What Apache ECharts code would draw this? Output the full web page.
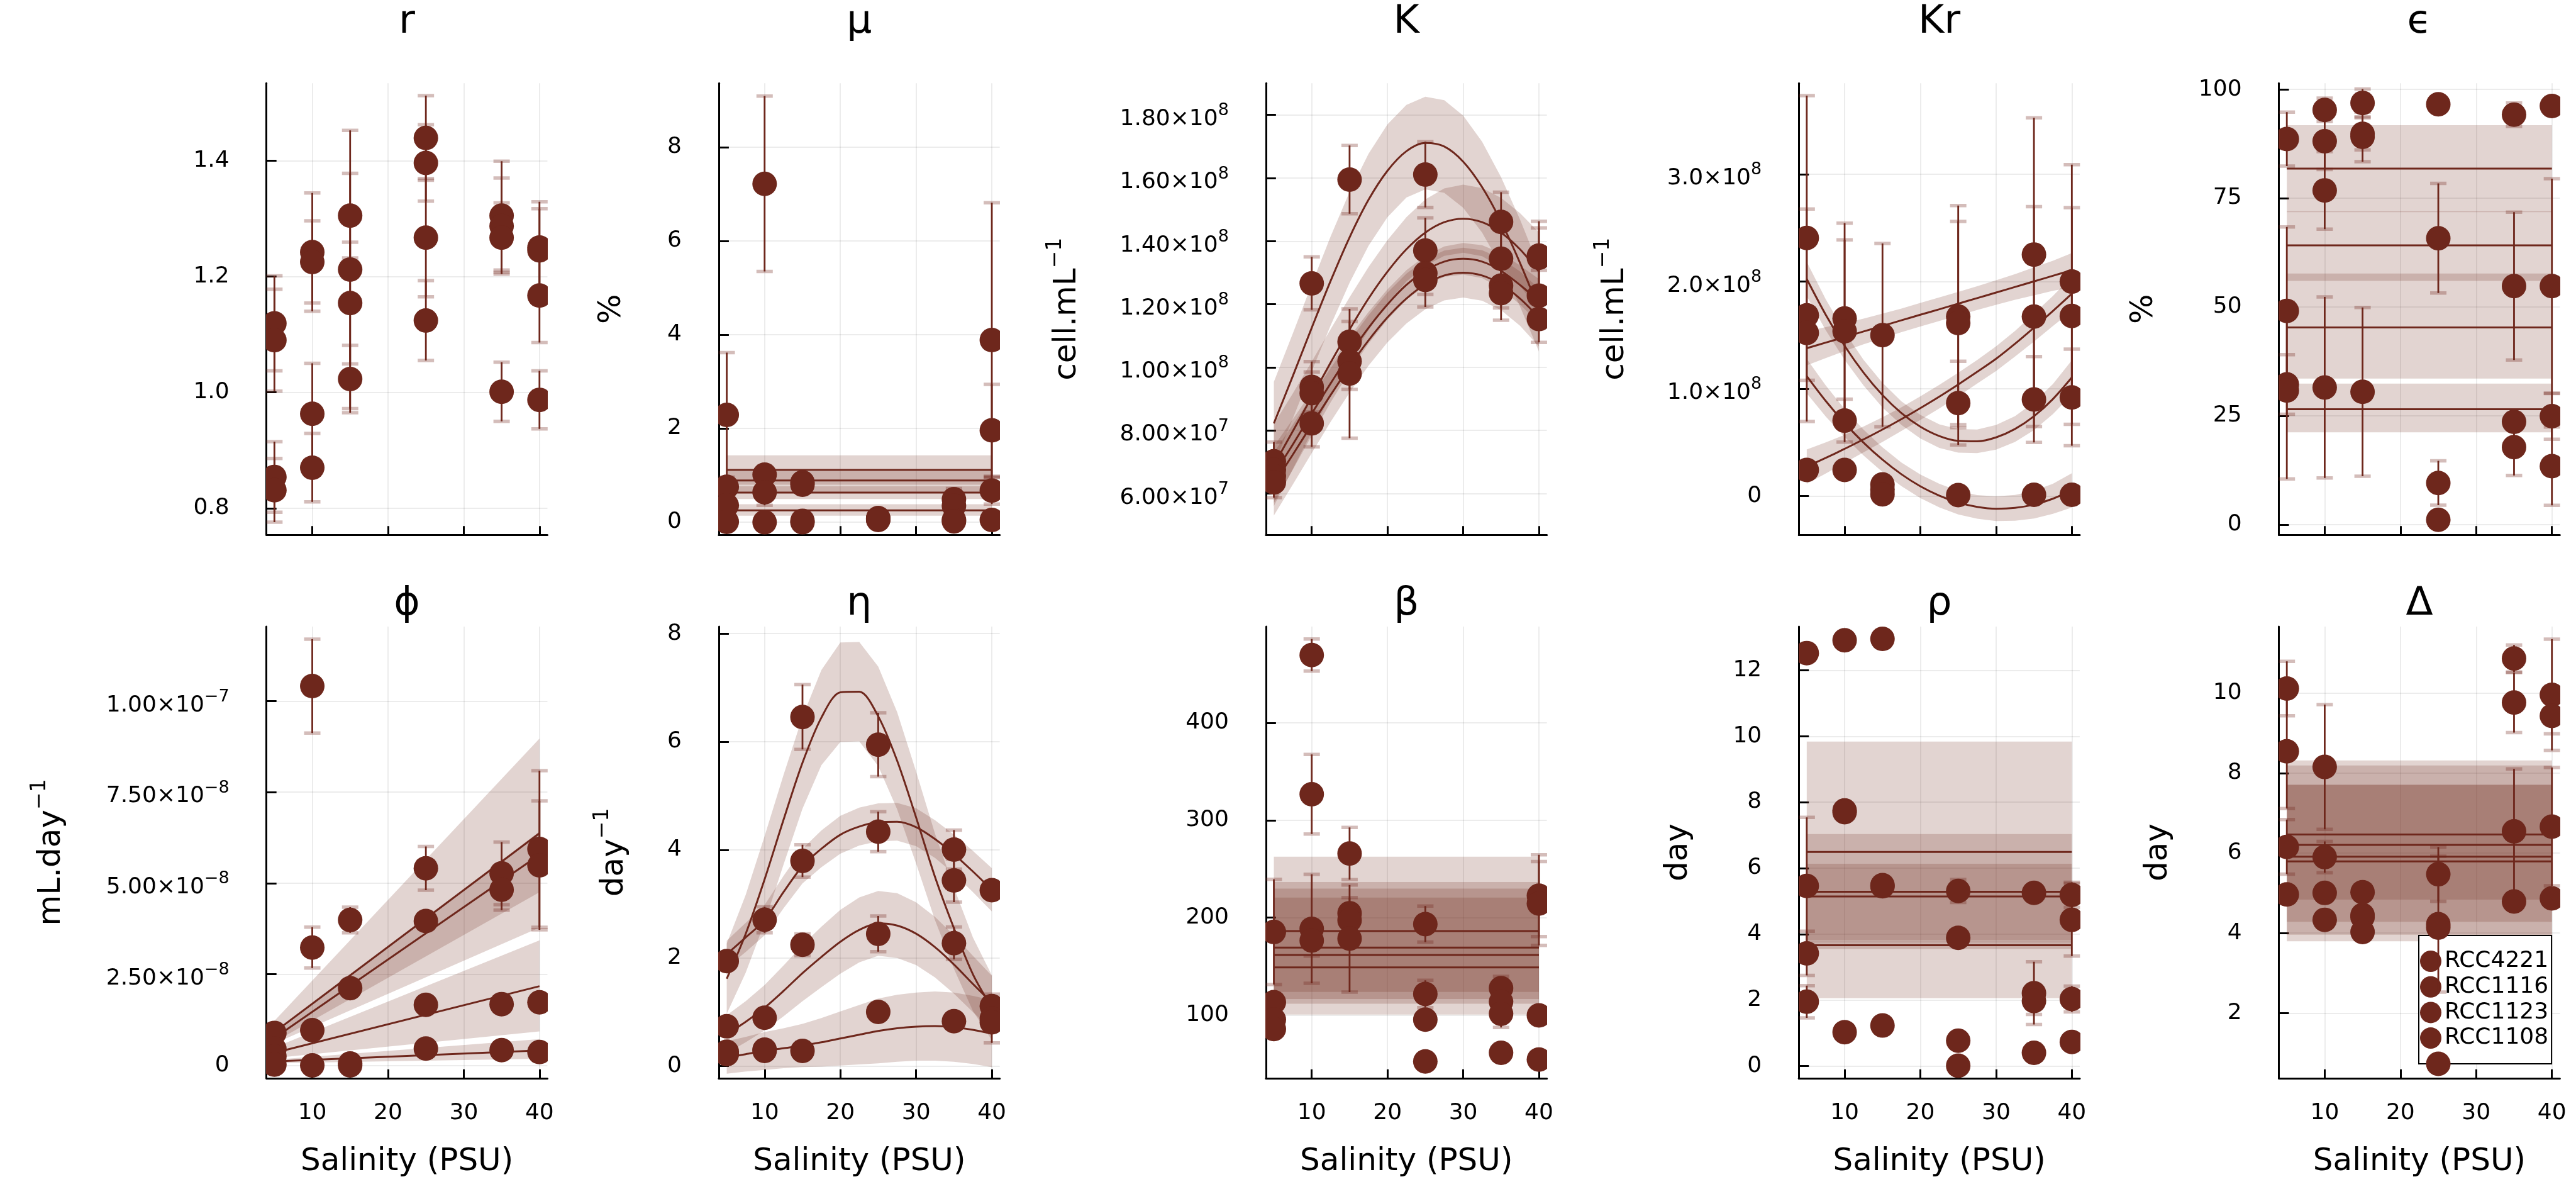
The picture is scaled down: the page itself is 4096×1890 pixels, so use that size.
<!DOCTYPE html>
<html>
<head>
<meta charset="utf-8">
<title>Salinity response of model parameters</title>
<script src="https://cdn.jsdelivr.net/npm/echarts@6.0.0/dist/echarts.min.js"></script>
<style>
html, body { margin: 0; padding: 0; background: #ffffff; }
#chart { width: 4096px; height: 1890px; }
</style>
</head>
<body>
<div id="chart"></div>
<script>
// ---------------- data ----------------
const salinity = [5, 10, 15, 25, 35, 40];
const strains = ['RCC4221', 'RCC1116', 'RCC1123', 'RCC1108'];
const fitX = [5, 7.5, 10, 12.5, 15, 17.5, 20, 22.5, 25, 27.5, 30, 32.5, 35, 37.5, 40];
const flatX = [5, 40];

// r
const rVal = [[1.119,1.242,1.305,1.439,1.305,1.250],[1.090,1.225,1.212,1.396,1.287,1.245],[0.854,0.963,1.154,1.267,1.267,1.167],[0.831,0.870,1.023,1.124,1.001,0.987]];
const rErr = [[0.082,0.102,0.073,0.073,0.094,0.079],[0.088,0.071,0.240,0.066,0.083,0.072],[0.061,0.087,0.105,0.102,0.060,0.081],[0.055,0.059,0.058,0.069,0.051,0.050]];

// mu (%)
const muVal = [[2.29,7.22,0.85,0.09,0.49,3.886],[0.755,1.015,0.80,0.08,0.35,1.96],[0.36,0.64,0.03,0.06,0.05,0.676],[0.01,0.0,0.0,0.05,0.02,0.05]];
const muErr = [[1.33,1.87,0,0,0.23,2.93],[0,0,0,0,0,0.98],[0,0.28,0,0,0,0.29],[0,0,0,0,0,0]];
const muFit = [1.114, 0.891, 0.632, 0.254];
const muLo = [0.80, 0.64, 0.496, 0.14];
const muHi = [1.428, 1.09, 0.768, 0.385];

// K (units of 1e7 cell/mL)
const kVal = [[7.02,12.66,15.95,16.11,14.61,13.54],[6.75,9.38,10.81,13.70,13.44,13.47],[6.55,9.18,10.19,12.98,12.59,12.27],[6.35,8.22,9.80,12.77,12.35,11.53]];
const kErr = [[0,0.84,1.08,1.04,0.94,1.09],[0.88,0.80,0.64,1.04,0.91,0.95],[0,0.67,0.89,0.67,0.71,0.81],[0,0.74,2.05,0.86,0.86,0.74]];
const kFitA = [8.22,9.72,11.25,12.74,14.12,15.31,16.23,16.85,17.11,17.0,16.52,15.71,14.62,13.31,11.85];
const kFitB = [6.9,7.97,9.06,10.15,11.2,12.18,13.03,13.74,14.27,14.6,14.71,14.6,14.27,13.74,13.03];
const kFitC = [6.6,7.55,8.53,9.49,10.41,11.25,11.99,12.61,13.06,13.35,13.44,13.35,13.06,12.61,12.1];
const kFitD = [6.3,7.23,8.18,9.12,10.02,10.85,11.58,12.18,12.63,12.91,13.0,12.91,12.63,12.18,11.58];
const kHalfA = [1.32,1.35,1.38,1.41,1.44,1.46,1.47,1.47,1.47,1.47,1.46,1.44,1.41,1.38,1.35];
const kHalfB = [1.3,1.2,1.12,1.06,1.02,1.0,1.0,1.02,1.05,1.07,1.08,1.08,1.1,1.15,1.25];
const kHalfC = [0.9,0.8,0.7,0.6,0.55,0.5,0.48,0.47,0.47,0.48,0.5,0.52,0.56,0.62,0.7];
const kHalfD = [1.0,0.95,0.9,0.85,0.82,0.8,0.79,0.79,0.79,0.79,0.79,0.8,0.82,0.86,0.92];

// Kr (units of 1e8 cell/mL)
const krVal = [[2.406,1.655,1.5,1.673,2.251,1.999],[1.685,1.536,0.108,1.612,1.673,1.679],[1.521,0.703,0.06,0.867,0.9,0.919],[0.243,0.243,0.016,0.009,0.012,0.012]];
const krErr = [[1.327,0.888,0.855,1.035,1.275,1.09],[0.99,0.852,0,0.947,1.025,1.01],[0,0.2,0,0.39,0.4,0.45],[0,0,0,0,0,0]];
const krFitLin = [1.378,1.43,1.482,1.534,1.586,1.638,1.69,1.741,1.793,1.845,1.897,1.949,2.001,2.053,2.105];
const krFitUp = [2.023,1.691,1.40,1.150,0.941,0.773,0.646,0.559,0.514,0.510,0.547,0.625,0.744,0.904,1.105];
const krFitLow = [1.118,0.887,0.681,0.498,0.339,0.203,0.091,0.004,-0.061,-0.101,-0.118,-0.110,-0.080,-0.025,0.053];
const krFitRise = [0.274,0.355,0.44,0.528,0.62,0.717,0.82,0.927,1.04,1.158,1.28,1.42,1.57,1.725,1.886];
const krHalf = [0.16,0.145,0.13,0.12,0.115,0.11,0.11,0.11,0.11,0.11,0.115,0.12,0.13,0.14,0.16];

// epsilon (%)
const epsVal = [[88.6,95.3,96.9,96.6,94.2,96.2],[49.1,88.1,89.8,65.8,54.8,54.8],[32.2,76.8,89.1,9.55,23.6,24.9],[30.8,31.5,30.5,1.1,17.8,13.4]];
const epsErr = [[6.2,2.7,3.2,0,2.7,0],[19.3,6.5,3.7,12.6,17,24.7],[6.85,8.9,5.7,5.1,0,5.3],[20.3,20.8,19.4,0,6.5,9]];
const epsFit = [81.8, 64.15, 45.3, 26.5];
const epsLo = [71.8, 56.0, 33.55, 21.2];
const epsHi = [91.8, 72.0, 57.7, 32.4];

// phi (units of 1e-8 mL/day)
const phiVal = [[0.89,10.41,3.99,5.41,5.27,5.94],[0.45,3.233,2.12,3.96,4.82,5.49],[0.25,0.964,0.05,1.66,1.68,1.73],[0.02,0.0,0.0,0.46,0.418,0.364]];
const phiErr = [[0,1.29,0.35,0.6,0.86,2.15],[0,0.56,0,0,0.56,1.77],[0,0,0,0,0,0],[0,0,0,0,0,0]];
const phiFit = [[0.91,6.37],[0.75,5.78],[0.343,2.173],[0.107,0.407]];
const phiLo = [[0.6,3.78],[0.64,4.75],[0.2,0.93],[0.06,0.18]];
const phiHi = [[1.22,8.97],[0.86,6.42],[0.49,3.43],[0.155,0.72]];

// eta (1/day)
const etaVal = [[1.941,2.706,6.457,5.945,4.004,3.254],[0.736,0.895,3.795,4.336,3.434,1.111],[0.267,0.303,2.244,2.446,2.273,0.88],[0.22,0.28,0.281,1.003,0.83,0.81]];
const etaErr = [[0,0.24,0.6,0.59,0.36,0],[0,0,0.3,0.37,0.4,0],[0,0,0.2,0.33,0.3,0.45],[0,0,0,0,0,0]];
const etaFit1 = [1.616,2.446,3.455,4.557,5.61,6.447,6.915,6.925,6.47,5.648,4.6,3.498,2.55,1.7,1.08];
const etaFit2 = [2.07,2.38,2.70,3.22,3.70,4.02,4.28,4.43,4.51,4.52,4.42,4.2,3.92,3.6,3.26];
const etaFit3 = [0.59,0.82,1.08,1.39,1.72,2.02,2.3,2.52,2.64,2.6,2.45,2.2,1.88,1.52,1.17];
const etaFit4 = [0.16,0.22,0.28,0.33,0.38,0.44,0.51,0.58,0.65,0.7,0.73,0.74,0.72,0.67,0.6];
const etaHalf1 = [0.65,0.72,0.8,0.83,0.85,0.88,0.92,0.92,0.92,0.9,0.85,0.8,0.75,0.68,0.6];
const etaHalf2 = [0.25,0.27,0.28,0.3,0.32,0.34,0.35,0.35,0.35,0.35,0.35,0.35,0.36,0.38,0.4];
const etaHalf3 = [0.35,0.38,0.42,0.47,0.52,0.56,0.59,0.6,0.6,0.6,0.58,0.56,0.54,0.52,0.5];
const etaHalf4 = [0.3,0.32,0.35,0.37,0.4,0.45,0.5,0.55,0.6,0.62,0.63,0.64,0.64,0.63,0.62];

// beta
const betaVal = [[185.3,469.6,265.8,193.3,127.6,222.5],[113.2,326.7,204.5,121.6,113.6,214.5],[95.2,188.5,197.3,95.2,101.2,99.6],[85.6,176.5,178.5,52.3,61.2,54.3]];
const betaErr = [[54,16.5,26.8,18.5,12,42],[6,40.8,16,14,0,43],[0,56,0,0,14,0],[0,16,55,0,0,0]];
const betaFit = [186.1, 169.3, 161.7, 148.9];
const betaLo = [100.4, 111.6, 116.4, 123.6];
const betaHi = [262.6, 236.6, 229.8, 220.5];

// rho (day)
const rhoVal = [[12.52,12.91,12.95,5.309,5.25,5.19],[5.462,7.75,5.486,3.89,2.211,4.434],[3.417,7.697,5.45,0.769,1.974,2.034],[1.951,1.029,1.23,0.012,0.402,0.733]];
const rhoErr = [[0,0,0,0.35,0,0.38],[2.08,0,0,0,0.95,1.1],[0.67,0,0,0,0.41,0.39],[0.49,0,0,0,0,0]];
const rhoFit = [6.49, 5.285, 5.143, 3.665];
const rhoLo = [3.75, 3.81, 2.057, 3.55];
const rhoHi = [7.035, 6.136, 9.837, 3.78];

// Delta (day)
const deltaVal = [[10.117,8.156,5.024,5.473,10.868,9.961],[8.546,5.902,4.45,4.224,9.766,9.434],[6.156,5.005,4.4,4.137,6.546,6.663],[4.966,4.332,4.029,0.732,4.79,4.868]];
const deltaErr = [[0.68,1.56,0,0.68,0.34,1.39],[1.43,0.39,0,1.7,0.75,0.45],[0.683,0,0,0,1.56,1.48],[0,0,0,0,0,0]];
const deltaFit = [6.468, 6.205, 5.912, 5.795];
const deltaLo = [3.795, 3.961, 4.283, 4.839];
const deltaHi = [8.32, 8.195, 7.717, 7.70];

// tick values
const xTicks = [10, 20, 30, 40];
const rTicks = [0.8, 1.0, 1.2, 1.4];
const muTicks = [0, 2, 4, 6, 8];
const kTicks = [6e7, 8e7, 1e8, 1.2e8, 1.4e8, 1.6e8, 1.8e8];
const krTicks = [0, 1e8, 2e8, 3e8];
const epsTicks = [0, 25, 50, 75, 100];
const phiTicks = [0, 2.5e-8, 5e-8, 7.5e-8, 1e-7];
const etaTicks = [0, 2, 4, 6, 8];
const betaTicks = [100, 200, 300, 400];
const rhoTicks = [0, 2, 4, 6, 8, 10, 12];
const deltaTicks = [2, 4, 6, 8, 10];

// ---------------- style / layout ----------------
const COLOR = '#6e271c';
const BAND = 'rgba(111,38,27,0.2)';
const CAP = 'rgba(111,38,27,0.3)';
const FONT = 'DejaVu Sans';
const S = 0.525;
const colLeft = [807, 2177, 3834, 5448, 6902].map(v => v * S);
const plotW = 851 * S;
const rowTop = [252 * S, 1897 * S];
const plotH = 1367.5 * S;
const titleTop = [3.8, 929.2];
const MARKER_R = 19.5;

function sci(v, d) {
  if (v === 0) return '0';
  const e = Math.floor(Math.log10(Math.abs(v)) + 1e-9);
  const m = v / Math.pow(10, e);
  return '{m|' + m.toFixed(d) + '×10}{s|' + (e < 0 ? '\u2212' + (-e) : String(e)) + '}';
}
function flatParts(fit, lo, hi) {
  return {
    lines: fit.map(f => ({ x: flatX, y: [f, f] })),
    bands: fit.map((f, k) => ({ x: flatX, lo: [lo[k], lo[k]], hi: [hi[k], hi[k]] }))
  };
}
function curveParts(xs, fits, halves) {
  return {
    lines: fits.map(f => ({ x: xs, y: f })),
    bands: fits.map((f, k) => ({ x: xs, lo: f.map((v, j) => v - halves[k][j]), hi: f.map((v, j) => v + halves[k][j]) }))
  };
}
function pairParts(xs, fits, los, his) {
  return {
    lines: fits.map(f => ({ x: xs, y: f })),
    bands: fits.map((f, k) => ({ x: xs, lo: los[k], hi: his[k] }))
  };
}

const panels = [
  Object.assign({ title: 'r', unit: 1, yMin: 0.754, yMax: 1.5335, ticks: rTicks, label: v => v.toFixed(1), yName: '', nameGap: 0, val: rVal, err: rErr }, { lines: [], bands: [] }),
  Object.assign({ title: 'μ', unit: 1, yMin: -0.27, yMax: 9.366, ticks: muTicks, label: v => String(v), yName: '%', nameGap: 145, val: muVal, err: muErr }, flatParts(muFit, muLo, muHi)),
  Object.assign({ title: 'K', unit: 1e7, yMin: 4.686e7, yMax: 1.9006e8, ticks: kTicks, label: v => sci(v, 2), yName: '{n|cell.mL}{p|\u22121}', nameGap: 291, val: kVal, err: kErr },
    curveParts(fitX, [kFitA, kFitB, kFitC, kFitD], [kHalfA, kHalfB, kHalfC, kHalfD])),
  Object.assign({ title: 'Kr', unit: 1e8, yMin: -0.362e8, yMax: 3.848e8, ticks: krTicks, label: v => sci(v, 1), yName: '{n|cell.mL}{p|\u22121}', nameGap: 267, val: krVal, err: krErr },
    curveParts(fitX, [krFitLin, krFitUp, krFitLow, krFitRise], [krHalf, krHalf, krHalf, krHalf])),
  Object.assign({ title: 'ϵ', unit: 1, yMin: -2.38, yMax: 101.43, ticks: epsTicks, label: v => String(v), yName: '%', nameGap: 190, val: epsVal, err: epsErr }, flatParts(epsFit, epsLo, epsHi)),
  Object.assign({ title: 'ϕ', unit: 1e-8, yMin: -0.353e-8, yMax: 12.045e-8, ticks: phiTicks, label: v => sci(v, 2), yName: '{n|mL.day}{p|\u22121}', nameGap: 317, val: phiVal, err: phiErr },
    pairParts(flatX, phiFit, phiLo, phiHi)),
  Object.assign({ title: 'η', unit: 1, yMin: -0.224, yMax: 8.131, ticks: etaTicks, label: v => String(v), yName: '{n|day}{p|\u22121}', nameGap: 141, val: etaVal, err: etaErr },
    curveParts(fitX, [etaFit1, etaFit2, etaFit3, etaFit4], [etaHalf1, etaHalf2, etaHalf3, etaHalf4])),
  Object.assign({ title: 'β', unit: 1, yMin: 35.1, yMax: 498.9, ticks: betaTicks, label: v => String(v), yName: '', nameGap: 0, val: betaVal, err: betaErr }, flatParts(betaFit, betaLo, betaHi)),
  Object.assign({ title: 'ρ', unit: 1, yMin: -0.367, yMax: 13.325, ticks: rhoTicks, label: v => String(v), yName: 'day', nameGap: 166, val: rhoVal, err: rhoErr }, flatParts(rhoFit, rhoLo, rhoHi)),
  Object.assign({ title: 'Δ', unit: 1, yMin: 0.371, yMax: 11.668, ticks: deltaTicks, label: v => String(v), yName: 'day', nameGap: 167, val: deltaVal, err: deltaErr }, flatParts(deltaFit, deltaLo, deltaHi))
];

// ---------------- option ----------------
const grids = [], xAxes = [], yAxes = [], titles = [], series = [];
const axisLineStyle = { color: '#000', width: 3 };
const gridLineStyle = { color: 'rgba(0,0,0,0.1)', width: 1.5 };

function bandSeries(idx, xs, lo, hi) {
  return {
    type: 'custom', xAxisIndex: idx, yAxisIndex: idx, z: 2, silent: true, clip: true,
    data: [[xs[0], lo[0]]],
    renderItem: function (params, api) {
      const pts = [];
      for (let i = 0; i < xs.length; i++) pts.push(api.coord([xs[i], hi[i]]));
      for (let i = xs.length - 1; i >= 0; i--) pts.push(api.coord([xs[i], lo[i]]));
      return { type: 'polygon', shape: { points: pts }, style: { fill: BAND } };
    }
  };
}
function errSeries(idx, items) {
  return {
    type: 'custom', xAxisIndex: idx, yAxisIndex: idx, z: 4, silent: true, clip: true,
    dimensions: ['x', 'y', 'e'], encode: { x: 0, y: 1 },
    data: items,
    renderItem: function (params, api) {
      const x = api.value(0), y = api.value(1), e = api.value(2);
      const top = api.coord([x, y + e]);
      const bot = api.coord([x, y - e]);
      const hw = 13;
      return {
        type: 'group', children: [
          { type: 'line', shape: { x1: top[0] - hw, y1: top[1], x2: top[0] + hw, y2: top[1] }, style: { stroke: CAP, lineWidth: 5.5 } },
          { type: 'line', shape: { x1: bot[0] - hw, y1: bot[1], x2: bot[0] + hw, y2: bot[1] }, style: { stroke: CAP, lineWidth: 5.5 } },
          { type: 'line', shape: { x1: top[0], y1: top[1], x2: bot[0], y2: bot[1] }, style: { stroke: COLOR, lineWidth: 2.8 } }
        ]
      };
    }
  };
}
function pointSeries(idx, name, data) {
  return {
    type: 'custom', name: name, xAxisIndex: idx, yAxisIndex: idx, z: 5, silent: true, clip: true,
    itemStyle: { color: COLOR },
    dimensions: ['x', 'y'], encode: { x: 0, y: 1 },
    data: data,
    renderItem: function (params, api) {
      const c = api.coord([api.value(0), api.value(1)]);
      return { type: 'circle', shape: { cx: c[0], cy: c[1], r: MARKER_R }, style: { fill: COLOR } };
    }
  };
}

panels.forEach((p, i) => {
  const row = i < 5 ? 0 : 1;
  const col = i % 5;
  const u = p.unit;
  grids.push({ left: colLeft[col], top: rowTop[row], width: plotW, height: plotH, containLabel: false, outerBoundsMode: 'none' });
  titles.push({
    text: p.title, left: colLeft[col] + plotW / 2, top: titleTop[row], textAlign: 'center', padding: 0,
    textStyle: { fontSize: 63, fontWeight: 'normal', fontFamily: FONT, color: '#000' }
  });
  xAxes.push({
    type: 'value', gridIndex: i, min: 3.95, max: 41.05,
    axisLine: { show: true, onZero: false, lineStyle: axisLineStyle },
    axisTick: { show: true, inside: true, length: 14, customValues: xTicks, lineStyle: axisLineStyle },
    axisLabel: { show: row === 1, customValues: xTicks, fontSize: 36, fontFamily: FONT, color: '#000', margin: 38 },
    splitLine: { show: true, lineStyle: gridLineStyle },
    name: row === 1 ? 'Salinity (PSU)' : '', nameLocation: 'middle', nameGap: 108,
    nameTextStyle: { fontSize: 50, fontFamily: FONT, color: '#000' }
  });
  yAxes.push({
    type: 'value', gridIndex: i, min: p.yMin, max: p.yMax,
    axisLine: { show: true, onZero: false, lineStyle: axisLineStyle },
    axisTick: { show: true, inside: true, length: 16, customValues: p.ticks, lineStyle: axisLineStyle },
    axisLabel: {
      customValues: p.ticks, formatter: p.label, fontSize: 36, fontFamily: FONT, color: '#000', margin: 59,
      rich: {
        m: { fontSize: 36, fontFamily: FONT, color: '#000', lineHeight: 40, padding: [14, 0, 0, 0] },
        s: { fontSize: 27, fontFamily: FONT, color: '#000', lineHeight: 30, verticalAlign: 'top' }
      }
    },
    splitLine: { show: true, lineStyle: gridLineStyle },
    name: p.yName, nameLocation: 'middle', nameGap: p.nameGap, nameRotate: 90,
    nameTextStyle: {
      fontSize: 50, fontFamily: FONT, color: '#000',
      rich: {
        n: { fontSize: 50, fontFamily: FONT, color: '#000', lineHeight: 60, verticalAlign: 'bottom' },
        p: { fontSize: 33, fontFamily: FONT, color: '#000', lineHeight: 33, verticalAlign: 'top' }
      }
    }
  });
  // confidence bands
  p.bands.forEach(b => {
    series.push(bandSeries(i, b.x, b.lo.map(v => v * u), b.hi.map(v => v * u)));
  });
  // fitted lines
  p.lines.forEach(l => {
    series.push({
      type: 'line', xAxisIndex: i, yAxisIndex: i, z: 3, silent: true, showSymbol: false, symbol: 'none',
      smooth: l.x.length > 2 ? 0.3 : false,
      lineStyle: { color: COLOR, width: 3 },
      data: l.x.map((x, j) => [x, l.y[j] * u])
    });
  });
  // error bars
  const items = [];
  p.val.forEach((vals, s) => {
    vals.forEach((v, j) => {
      const e = p.err[s][j];
      if (e > 0) items.push([salinity[j], v * u, e * u]);
    });
  });
  series.push(errSeries(i, items));
  // points (clipped to the plot area)
  p.val.forEach((vals, s) => {
    series.push(pointSeries(i, strains[s], vals.map((v, j) => [salinity[j], v * u])));
  });
});

const option = {
  animation: false,
  backgroundColor: '#ffffff',
  textStyle: { fontFamily: FONT },
  title: titles,
  grid: grids,
  xAxis: xAxes,
  yAxis: yAxes,
  legend: {
    data: strains.map(n => ({ name: n, icon: 'circle', itemStyle: { color: COLOR } })),
    orient: 'vertical', left: 3846, top: 1487,
    itemWidth: 34, itemHeight: 34, itemGap: 4.7,
    padding: [23, 5, 23, 2], borderColor: '#000', borderWidth: 2, backgroundColor: '#ffffff',
    selectedMode: false,
    textStyle: { fontSize: 36, fontFamily: FONT, color: '#000' }
  },
  series: series
};

const chart = echarts.init(document.getElementById('chart'), null, { renderer: 'canvas', width: 4096, height: 1890 });
chart.setOption(option);
</script>
</body>
</html>
